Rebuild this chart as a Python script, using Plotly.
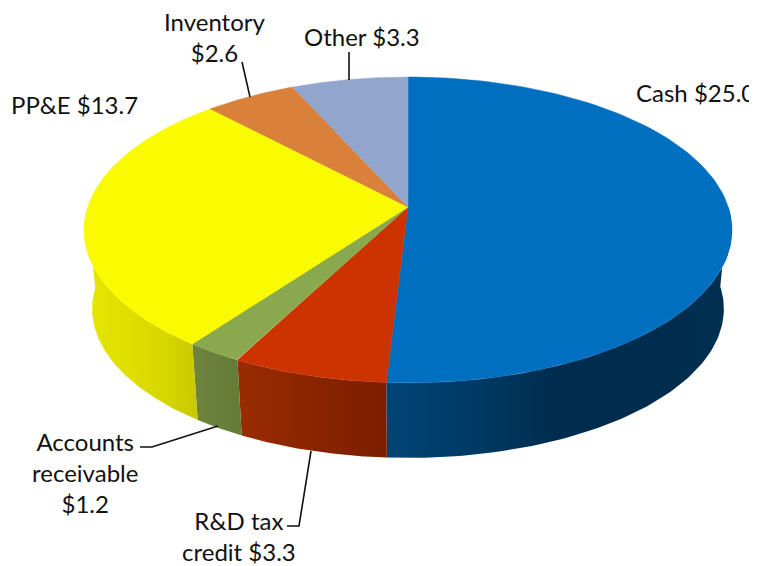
"""
Assets breakdown - 3D style pie drawn from filled scatter polygons
"""
import numpy as np
import plotly.graph_objects as go

categories = ["Cash", "R&D tax credit", "Accounts receivable", "PP&E", "Inventory", "Other"]
values = [25.0, 3.3, 1.2, 13.7, 2.6, 3.3]
top_colors = ["#006FC0", "#CC3300", "#8AA84E", "#FAFA00", "#D9813B", "#92A6CD"]

# wall shading, left to right on screen
wall_colors = [
    ["#004475", "#003A66", "#002C4E", "#002C4E", "#00304F"],
    ["#9A2C00", "#8A2400", "#7A1E00"],
    ["#6E843E", "#667A38"],
    ["#E6E600", "#E0E000", "#D8D800", "#C8C800"],
    ["#B06A30", "#B06A30"],
    ["#7888A8", "#7888A8"],
]

label_text = [
    "Cash $25.0",
    "R&D tax<br>credit $3.3",
    "Accounts<br>receivable<br>$1.2",
    "PP&E $13.7",
    "Inventory<br>$2.6",
    "Other $3.3",
]

# ── Pie geometry (screen pixels, perspective on a tilted disc) ──────────────
CX, CY = 408, 207
A, B, K = 149.5, 320.3, 0.150
WALL_SHRINK, WALL_Y = 0.975, 286.4
PAGE_MARGIN = 8  # the page body pushes the figure in by this much

LABEL_POS = [
    (695, 92, "center"), (239, 536, "center"), (85, 472, "center"),
    (74, 104, "center"), (215, 37, "center"), (362, 36, "center"),
]
LEADERS = [
    ([140, 152, 218], [447, 447, 426]),
    ([287, 299, 311], [526, 526, 451]),
    ([242, 250], [62, 97]),
    ([349, 349], [52, 80]),
]


def rim(t_deg, scale=1.0, y0=CY):
    t = np.radians(t_deg)
    d = 1 + K * np.cos(t)
    return CX + scale * B * np.sin(t) / d, y0 - scale * A * np.cos(t) / d


total = sum(values)
ends = np.cumsum(values) / total * 360
starts = np.concatenate([[0], ends[:-1]])

fig = go.Figure()

# Side walls go first, the top of the pie covers whatever is behind
for s, e, shades in zip(starts, ends, wall_colors):
    lo, hi = max(s, 90), min(e, 270)
    if lo >= hi:
        continue
    t = np.linspace(lo, hi, 80)
    xt, yt = rim(t)
    xb, yb = rim(t[::-1], WALL_SHRINK, WALL_Y)
    stops = np.linspace(0, 1, len(shades))
    fig.add_trace(go.Scatter(
        x=np.concatenate([xt, xb]), y=np.concatenate([yt, yb]),
        mode="lines", fill="toself",
        line=dict(width=0),
        fillgradient=dict(
            type="horizontal",
            colorscale=[[float(p), c] for p, c in zip(stops, shades)],
        ),
        hoverinfo="skip",
    ))

# Top face
for cat, val, s, e, col in zip(categories, values, starts, ends, top_colors):
    t = np.linspace(s, e, 120)
    xt, yt = rim(t)
    fig.add_trace(go.Scatter(
        x=np.concatenate([[CX], xt, [CX]]), y=np.concatenate([[CY], yt, [CY]]),
        mode="lines", fill="toself", fillcolor=col,
        line=dict(color=col, width=0.5),
        name=cat,
        hovertemplate=f"{cat}: ${val:.1f}<extra></extra>",
    ))

# Leader lines
for lx, ly in LEADERS:
    fig.add_trace(go.Scatter(
        x=lx, y=ly, mode="lines",
        line=dict(color="#111111", width=1.6),
        hoverinfo="skip",
    ))

for text, (x, y, anchor) in zip(label_text, LABEL_POS):
    fig.add_annotation(
        x=x, y=y, text=text, showarrow=False,
        xanchor=anchor, yanchor="middle", align="center",
        font=dict(family="Lato, sans-serif", size=24, color="#111111"),
    )

fig.update_layout(
    width=757 - PAGE_MARGIN, height=566 - PAGE_MARGIN,
    margin=dict(l=0, r=0, t=0, b=0),
    paper_bgcolor="white", plot_bgcolor="white",
    showlegend=False,
)
fig.update_xaxes(range=[PAGE_MARGIN, 757], visible=False)
fig.update_yaxes(range=[566, PAGE_MARGIN], visible=False)

fig.write_html("out.html")
